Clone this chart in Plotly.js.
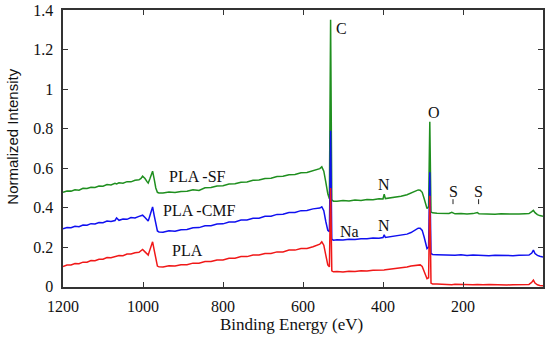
<!DOCTYPE html>
<html>
<head>
<meta charset="utf-8">
<script src="https://cdn.plot.ly/plotly-3.0.1.min.js"></script>
<style>
html,body{margin:0;padding:0;background:#fff;}
#chart{width:550px;height:340px;}
</style>
</head>
<body>
<div id="chart"></div>
<script>
// Binding energy (eV), shared by all three spectra
var energy = [
  1200,1190,1180,1170,1160,1150,1140,1130,1120,1110,1100,1090,1080,1070,1066,1060,1050,1040,1030,1020,1010,
  1005,1001,995,990,987,983,979,976,972,968,964,960,
  950,935,920,905,890,875,860,845,830,815,800,785,770,755,740,725,710,695,680,665,650,635,620,605,590,575,565,
  558,553,548,543,538,534,531,528,524,
  515,500,485,470,455,440,425,410,400,397,394,385,370,355,340,330,320,312,
  307,302,297,293,290,286,283,280,276,
  265,250,235,228,220,205,190,175,164,160,150,135,120,105,90,75,60,45,35,28,24,20,14,8,2,0
];
var plaSF = [
  0.478,0.485,0.484,0.491,0.489,0.498,0.497,0.504,0.502,0.510,0.509,0.517,0.515,0.523,0.520,0.526,0.524,0.532,0.531,0.539,0.541,
  0.548,0.560,0.548,0.532,0.525,0.545,0.572,0.585,0.545,0.500,0.478,0.475,
  0.474,0.479,0.477,0.482,0.483,0.491,0.487,0.501,0.502,0.510,0.511,0.520,0.521,0.529,0.530,0.539,0.540,0.548,0.549,0.558,0.559,0.567,0.568,0.577,0.578,0.587,0.592,
  0.598,0.607,0.585,0.530,0.470,0.445,1.353,0.440,0.433,
  0.433,0.436,0.434,0.439,0.437,0.441,0.440,0.445,0.444,0.468,0.446,0.448,0.452,0.458,0.466,0.475,0.486,0.490,
  0.489,0.478,0.445,0.410,0.396,0.405,0.835,0.378,0.374,
  0.372,0.370,0.371,0.377,0.369,0.371,0.368,0.370,0.375,0.369,0.368,0.370,0.367,0.369,0.368,0.370,0.368,0.369,0.370,0.380,0.387,0.375,0.365,0.360,0.357,0.356
];
var plaCMF = [
  0.293,0.299,0.298,0.306,0.304,0.312,0.311,0.319,0.317,0.325,0.324,0.332,0.330,0.335,0.348,0.336,0.343,0.341,0.350,0.348,0.356,
  0.358,0.362,0.350,0.337,0.332,0.358,0.390,0.404,0.360,0.310,0.282,0.277,
  0.276,0.283,0.281,0.288,0.289,0.298,0.299,0.308,0.308,0.317,0.318,0.327,0.328,0.337,0.338,0.346,0.347,0.356,0.357,0.366,0.367,0.376,0.376,0.385,0.386,0.394,0.397,
  0.398,0.404,0.385,0.330,0.285,0.278,0.790,0.240,0.235,
  0.237,0.236,0.240,0.239,0.243,0.242,0.246,0.245,0.249,0.262,0.249,0.252,0.255,0.260,0.266,0.274,0.285,0.296,
  0.296,0.285,0.250,0.210,0.193,0.200,0.580,0.168,0.163,
  0.162,0.160,0.161,0.160,0.159,0.161,0.158,0.160,0.159,0.158,0.160,0.157,0.159,0.158,0.160,0.157,0.159,0.158,0.160,0.170,0.185,0.168,0.158,0.154,0.151,0.150
];
var pla = [
  0.102,0.109,0.110,0.117,0.116,0.124,0.124,0.132,0.131,0.139,0.139,0.147,0.146,0.153,0.152,0.158,0.157,0.165,0.165,0.172,0.174,
  0.180,0.188,0.176,0.165,0.160,0.185,0.215,0.227,0.185,0.135,0.104,0.100,
  0.099,0.106,0.104,0.111,0.111,0.119,0.119,0.127,0.127,0.135,0.135,0.144,0.144,0.152,0.152,0.160,0.160,0.168,0.168,0.176,0.176,0.185,0.185,0.193,0.193,0.202,0.208,
  0.215,0.227,0.210,0.160,0.110,0.100,0.500,0.080,0.075,
  0.076,0.074,0.078,0.077,0.080,0.079,0.083,0.082,0.085,0.084,0.086,0.088,0.091,0.094,0.099,0.104,0.108,0.110,
  0.110,0.102,0.075,0.050,0.040,0.045,0.460,0.018,0.013,
  0.013,0.011,0.012,0.010,0.012,0.010,0.011,0.009,0.011,0.010,0.009,0.011,0.009,0.010,0.008,0.010,0.009,0.010,0.011,0.022,0.033,0.018,0.009,0.006,0.004,0.004
];
var seriesNames = ["PLA-SF", "PLA-CMF", "PLA"];
var xTicks = [1200, 1000, 800, 600, 400, 200];
var yTicks = [0, 0.2, 0.4, 0.6, 0.8, 1, 1.2, 1.4];
var yTickText = ["0", "0.2", "0.4", "0.6", "0.8", "1", "1.2", "1.4"];

var serif = "Liberation Serif";
var sans = "Liberation Sans";
var colors = ["#1f8f1f", "#1010f0", "#f01818"];
var ys = [plaSF, plaCMF, pla];
var traces = ys.map(function (y, i) {
  return {x: energy, y: y, name: seriesNames[i], type: "scatter", mode: "lines",
          line: {color: colors[i], width: 1.5}, hoverinfo: "skip"};
});

function ann(text, x, y) {
  return {text: text, x: x, y: y, xref: "x", yref: "y", showarrow: false,
          font: {family: serif, size: 16, color: "#111"}};
}
var annotations = [
  ann("PLA -SF", 864, 0.556),
  ann("PLA -CMF", 858, 0.387),
  ann("PLA", 889, 0.181),
  ann("C", 505, 1.31),
  ann("O", 272, 0.884),
  ann("N", 397, 0.519),
  ann("N", 397, 0.311),
  ann("Na", 485, 0.277),
  ann("S", 225, 0.484),
  ann("S", 161, 0.484),
  // axis titles
  {text: "Binding Energy (eV)", xref: "paper", yref: "paper", x: 0.476, y: -0.137,
   xanchor: "center", yanchor: "middle", showarrow: false,
   font: {family: serif, size: 17, color: "#111"}},
  {text: "Normalized Intensity", xref: "paper", yref: "paper", x: -0.104, y: 0.543,
   xanchor: "center", yanchor: "middle", textangle: -90, showarrow: false,
   font: {family: sans, size: 15, color: "#111"}}
];
var shapes = [225, 161].map(function (e) {
  return {type: "line", xref: "x", yref: "y", x0: e, x1: e, y0: 0.418, y1: 0.443,
          line: {color: "#222", width: 1}};
});

var layout = {
  width: 550, height: 340,
  margin: {l: 63, r: 7, t: 10, b: 53},
  font: {family: serif, size: 16, color: "#111"},
  paper_bgcolor: "#fff", plot_bgcolor: "#fff",
  showlegend: false,
  xaxis: {
    range: [1200, 0], tickmode: "array", tickvals: xTicks, ticktext: xTicks.map(String),
    ticks: "inside", ticklen: 5, tickcolor: "#333", tickwidth: 1,
    showline: true, linecolor: "#333", linewidth: 1.6, mirror: "ticks",
    showgrid: false, zeroline: false,
    tickfont: {family: serif, size: 16, color: "#111"},
    ticklabelstandoff: 4
  },
  yaxis: {
    range: [-0.002, 1.402], tickmode: "array", tickvals: yTicks, ticktext: yTickText,
    ticks: "inside", ticklen: 5, tickcolor: "#333", tickwidth: 1,
    showline: true, linecolor: "#333", linewidth: 1.6, mirror: "ticks",
    showgrid: false, zeroline: false,
    tickfont: {family: serif, size: 16, color: "#111"},
    ticklabelstandoff: 5
  },
  annotations: annotations,
  shapes: shapes
};
Plotly.newPlot("chart", traces, layout, {staticPlot: true, displayModeBar: false});
</script>
</body>
</html>
